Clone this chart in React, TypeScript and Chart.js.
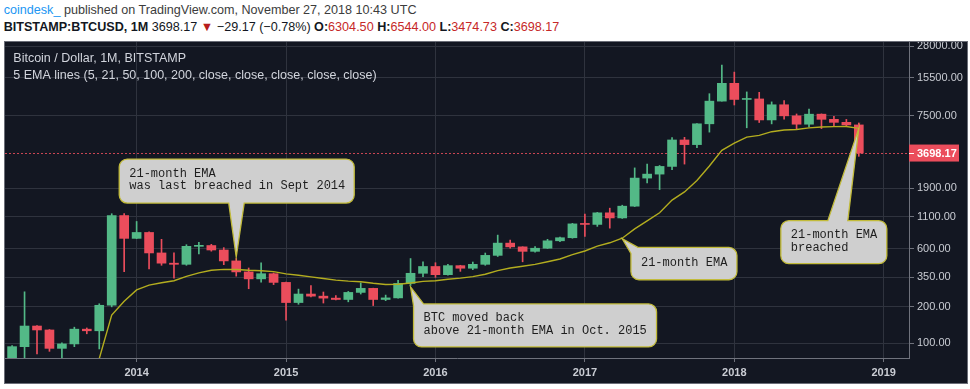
import React, { useEffect, useRef } from "react";
import { Chart, registerables } from "chart.js";

Chart.register(...registerables);

// ---------- data ----------
const MONTHS = [
  "2013-03", "2013-04", "2013-05", "2013-06", "2013-07", "2013-08", "2013-09", "2013-10", "2013-11", "2013-12",
  "2014-01", "2014-02", "2014-03", "2014-04", "2014-05", "2014-06", "2014-07", "2014-08", "2014-09", "2014-10", "2014-11", "2014-12",
  "2015-01", "2015-02", "2015-03", "2015-04", "2015-05", "2015-06", "2015-07", "2015-08", "2015-09", "2015-10", "2015-11", "2015-12",
  "2016-01", "2016-02", "2016-03", "2016-04", "2016-05", "2016-06", "2016-07", "2016-08", "2016-09", "2016-10", "2016-11", "2016-12",
  "2017-01", "2017-02", "2017-03", "2017-04", "2017-05", "2017-06", "2017-07", "2017-08", "2017-09", "2017-10", "2017-11", "2017-12",
  "2018-01", "2018-02", "2018-03", "2018-04", "2018-05", "2018-06", "2018-07", "2018-08", "2018-09", "2018-10", "2018-11",
];

const OPEN = [
  34, 94, 139, 129, 91, 99, 131, 127, 206, 1130,
  733, 820, 556, 458, 448, 630, 640, 588, 478, 388, 340, 375,
  318, 217, 255, 245, 236, 230, 263, 284, 230, 237, 312, 378,
  430, 368, 437, 416, 448, 531, 670, 624, 573, 608, 700, 742,
  965, 955, 1190, 1080, 1350, 2300, 2480, 2870, 4740, 4340, 6440, 9900,
  13880, 10220, 10320, 6930, 9240, 7490, 6390, 7730, 7010, 6620, 6304.5,
];

const HIGH = [
  96, 266, 140, 130, 101, 136, 134, 212, 1170, 1175,
  1010, 830, 720, 556, 650, 680, 655, 615, 500, 418, 460, 380,
  320, 280, 300, 265, 248, 268, 315, 285, 250, 330, 500, 470,
  462, 448, 440, 468, 555, 780, 710, 625, 627, 720, 750, 975,
  1160, 1200, 1300, 1375, 2790, 3000, 2920, 4950, 4980, 6470, 11400, 19650,
  17170, 11790, 11700, 9760, 9990, 7760, 8500, 7770, 7410, 7000, 6544,
];

const LOW = [
  33, 50, 82, 86, 66, 94, 120, 90, 200, 390,
  730, 410, 440, 345, 440, 545, 575, 445, 358, 282, 320, 305,
  155, 210, 242, 215, 228, 220, 255, 205, 225, 236, 300, 355,
  350, 365, 392, 405, 440, 520, 610, 470, 565, 605, 690, 735,
  760, 920, 890, 1070, 1340, 2100, 1850, 2700, 3000, 4100, 5500, 9900,
  9200, 5970, 6600, 6430, 7030, 5780, 6080, 5880, 6110, 6200, 3474.73,
];

const CLOSE = [
  94, 139, 129, 91, 99, 131, 127, 206, 1130, 733,
  820, 556, 458, 448, 630, 640, 588, 478, 388, 340, 375, 318,
  217, 255, 245, 236, 230, 263, 284, 230, 237, 312, 378, 430,
  368, 437, 416, 448, 531, 670, 624, 573, 608, 700, 742, 965,
  955, 1190, 1080, 1350, 2300, 2480, 2870, 4740, 4340, 6440, 9900, 13880,
  10220, 10320, 6930, 9240, 7490, 6390, 7730, 7010, 6620, 6304.5, 3698.17,
];

const EMA21 = [
  null, null, null, null, null, null, null, 75, 171, 222,
  276, 302, 316, 328, 356, 381, 400, 407, 406, 400, 397, 390,
  374, 364, 353, 342, 332, 326, 322, 313, 306, 307, 314, 324,
  328, 338, 345, 355, 371, 398, 418, 432, 448, 471, 496, 539,
  577, 633, 674, 735, 877, 1023, 1191, 1514, 1770, 2195, 2895, 3892,
  4468, 5000, 5175, 5545, 5722, 5783, 5960, 6055, 6106, 6124, 5903,
];

const YEAR_TICKS = [2014, 2015, 2016, 2017, 2018, 2019];
const PRICE_TICKS = [100, 200, 350, 600, 1100, 1900, 7500, 15500, 28000];
const LAST_PRICE = 3698.17;
const LAST_CHANGE = "\u221229.17 (\u22120.78%)";

const PUBLISHER = "coindesk_";
const PUBLISHED = " published on TradingView.com, November 27, 2018 10:43 UTC";
const SYMBOL = "BITSTAMP:BTCUSD, 1M";
const TITLE = "Bitcoin / Dollar, 1M, BITSTAMP";
const STUDY = "5 EMA lines (5, 21, 50, 100, 200, close, close, close, close, close)";

const NOTE_1 = ["21-month EMA", "was last breached in Sept 2014"];
const NOTE_2 = ["BTC moved back", "above 21-month EMA in Oct. 2015"];
const NOTE_3 = ["21-month EMA"];
const NOTE_4 = ["21-month EMA", "breached"];

// ---------- styles ----------
const BG = "#131722";
const GRID = "#2f333e";
const AXIS = "#6f727c";
const LABEL = "#c9ccd3";
const GREEN = "#53b987";
const RED = "#eb4d5c";
const EMA_COLOR = "#b3ad1f";
const SANS = '"Liberation Sans", Arial, sans-serif';
const MONO = '"Liberation Mono", "Courier New", monospace';

const X_MIN = -10.57;
const X_MAX = 62.03;
const Y_MIN = 75.8;
const Y_MAX = 30390;

// callout anchors (tip is bound to data), boxes are pixel offsets from the tip
const CALLOUTS = [
  { lines: NOTE_1, month: "2014-09", source: "high", dy: -1.5, box: [-117, -98, 118, -54], ptr: { side: "bottom", from: -7.5, to: 8 } },
  { lines: NOTE_2, month: "2015-11", source: "low", dy: 1.5, box: [3, 17, 246, 60], ptr: { side: "tl", a: 10, b: 2 } },
  { lines: NOTE_3, month: "2017-04", source: "ema", dy: 0.5, box: [8.7, 8.7, 114.7, 41], ptr: { side: "tl", a: 7, b: 6 } },
  { lines: NOTE_4, month: "2018-11", source: "ema", dy: 0, box: [-78, 92.3, 28, 135.3], ptr: { side: "top", from: -31, to: -11 } },
];

function monthIndex(label: string) {
  const [y, m] = label.split("-").map(Number);
  return (y - 2014) * 12 + (m - 1);
}

function calloutPath(ctx: CanvasRenderingContext2D, L: number, T: number, R: number, B: number, r: number, tip: { x: number; y: number }, ptr: any) {
  ctx.beginPath();
  if (ptr.side === "tl") {
    ctx.moveTo(L + ptr.a, T);
    ctx.lineTo(R - r, T);
    ctx.arcTo(R, T, R, T + r, r);
    ctx.lineTo(R, B - r);
    ctx.arcTo(R, B, R - r, B, r);
    ctx.lineTo(L + r, B);
    ctx.arcTo(L, B, L, B - r, r);
    ctx.lineTo(L, T + ptr.b);
    ctx.lineTo(tip.x, tip.y);
    ctx.closePath();
  } else if (ptr.side === "top") {
    ctx.moveTo(L + r, T);
    ctx.lineTo(tip.x + ptr.from, T);
    ctx.lineTo(tip.x, tip.y);
    ctx.lineTo(tip.x + ptr.to, T);
    ctx.lineTo(R - r, T);
    ctx.arcTo(R, T, R, T + r, r);
    ctx.lineTo(R, B - r);
    ctx.arcTo(R, B, R - r, B, r);
    ctx.lineTo(L + r, B);
    ctx.arcTo(L, B, L, B - r, r);
    ctx.lineTo(L, T + r);
    ctx.arcTo(L, T, L + r, T, r);
    ctx.closePath();
  } else {
    ctx.moveTo(L + r, T);
    ctx.lineTo(R - r, T);
    ctx.arcTo(R, T, R, T + r, r);
    ctx.lineTo(R, B - r);
    ctx.arcTo(R, B, R - r, B, r);
    ctx.lineTo(tip.x + ptr.to, B);
    ctx.lineTo(tip.x, tip.y);
    ctx.lineTo(tip.x + ptr.from, B);
    ctx.lineTo(L + r, B);
    ctx.arcTo(L, B, L, B - r, r);
    ctx.lineTo(L, T + r);
    ctx.arcTo(L, T, L + r, T, r);
    ctx.closePath();
  }
}

const overlayPlugin = {
  id: "overlay",
  beforeDatasetsDraw(chart: any) {
    const { ctx, chartArea: a, scales } = chart;
    const py = Math.round(scales.y.getPixelForValue(LAST_PRICE)) + 0.5;
    ctx.save();
    ctx.strokeStyle = "rgba(235,77,92,0.85)";
    ctx.lineWidth = 1;
    ctx.setLineDash([2, 2]);
    ctx.beginPath();
    ctx.moveTo(a.left, py);
    ctx.lineTo(a.right, py);
    ctx.stroke();
    ctx.setLineDash([]);
    ctx.fillStyle = "#d1d4dc";
    ctx.font = `12.5px ${SANS}`;
    ctx.textBaseline = "middle";
    ctx.textAlign = "left";
    ctx.fillText(TITLE, a.left + 8.3, a.top + 16.3);
    ctx.fillText(STUDY, a.left + 8.3, a.top + 33.7);
    ctx.restore();
  },
  afterDraw(chart: any) {
    const { ctx, chartArea: a, scales } = chart;
    const xs = scales.x;
    const ys = scales.y;
    ctx.save();
    // last price label on axis
    const py = ys.getPixelForValue(LAST_PRICE);
    ctx.fillStyle = RED;
    ctx.fillRect(a.right, py - 8.5, 50, 17);
    ctx.strokeStyle = "#ffffff";
    ctx.lineWidth = 1;
    ctx.beginPath();
    ctx.moveTo(a.right, Math.round(py) + 0.5);
    ctx.lineTo(a.right + 5, Math.round(py) + 0.5);
    ctx.stroke();
    ctx.fillStyle = "#ffffff";
    ctx.font = `bold 11px ${SANS}`;
    ctx.textBaseline = "middle";
    ctx.textAlign = "left";
    ctx.fillText(LAST_PRICE.toFixed(2), a.right + 8, py + 0.5);

    // callouts
    for (const c of CALLOUTS) {
      const i = MONTHS.indexOf(c.month);
      const v = c.source === "high" ? HIGH[i] : c.source === "low" ? LOW[i] : (EMA21[i] as number);
      const tip = { x: xs.getPixelForValue(monthIndex(c.month)), y: ys.getPixelForValue(v) + c.dy };
      const L = tip.x + c.box[0];
      const T = tip.y + c.box[1];
      const R = tip.x + c.box[2];
      const B = tip.y + c.box[3];
      calloutPath(ctx, L, T, R, B, 8, tip, c.ptr);
      ctx.fillStyle = "#cfcfcf";
      ctx.fill();
      ctx.strokeStyle = "#c2bb3a";
      ctx.lineWidth = 1.3;
      ctx.stroke();
      ctx.fillStyle = "#1e1e1e";
      ctx.font = `12px ${MONO}`;
      ctx.textBaseline = "middle";
      ctx.textAlign = "left";
      const mid = (T + B) / 2 - 1;
      const n = c.lines.length;
      c.lines.forEach((t, k) => {
        ctx.fillText(t, L + 10, mid + (k - (n - 1) / 2) * 12.4);
      });
    }
    ctx.restore();
  },
};

export default function App() {
  const ref = useRef<HTMLCanvasElement>(null);

  useEffect(() => {
    const canvas = ref.current;
    if (!canvas) return;
    const xs = MONTHS.map(monthIndex);
    const colors = CLOSE.map((c, i) => (c >= OPEN[i] ? GREEN : RED));

    const chart = new Chart(canvas, {
      type: "bar",
      data: {
        datasets: [
          {
            type: "line",
            data: xs.map((x, i) => ({ x, y: EMA21[i] })),
            borderColor: EMA_COLOR,
            borderWidth: 1.4,
            pointRadius: 0,
            tension: 0,
            spanGaps: false,
          } as any,
          {
            type: "bar",
            data: xs.map((x, i) => ({ x, y: [OPEN[i], CLOSE[i]] })),
            backgroundColor: colors,
            barThickness: 9,
            grouped: false,
            minBarLength: 1,
            borderWidth: 0,
          } as any,
          {
            type: "bar",
            data: xs.map((x, i) => ({ x, y: [LOW[i], HIGH[i]] })),
            backgroundColor: colors,
            barThickness: 1,
            grouped: false,
            borderWidth: 0,
          } as any,
        ],
      },
      options: {
        animation: false,
        responsive: false,
        devicePixelRatio: 1,
        events: [],
        layout: { padding: 0 },
        plugins: { legend: { display: false }, tooltip: { enabled: false }, title: { display: false } },
        scales: {
          x: {
            type: "linear",
            position: "bottom",
            min: X_MIN,
            max: X_MAX,
            offset: false,
            afterBuildTicks: (s: any) => {
              s.ticks = YEAR_TICKS.map((y) => ({ value: (y - 2014) * 12 }));
            },
            afterFit: (s: any) => {
              s.height = 25;
              s.paddingLeft = 0;
              s.paddingRight = 0;
            },
            ticks: {
              autoSkip: false,
              maxRotation: 0,
              padding: 4,
              color: LABEL,
              font: { family: SANS, size: 11, weight: "bold" },
              callback: (v: any) => String(2014 + Number(v) / 12),
            },
            grid: { color: GRID, offset: false, drawTicks: true, tickLength: 4, tickColor: AXIS, lineWidth: 1 },
            border: { display: true, color: AXIS, width: 1 },
          },
          y: {
            type: "logarithmic",
            position: "right",
            min: Y_MIN,
            max: Y_MAX,
            beginAtZero: false,
            afterBuildTicks: (s: any) => {
              s.ticks = PRICE_TICKS.map((v) => ({ value: v }));
            },
            afterFit: (s: any) => {
              s.width = 58;
              s.paddingTop = 0;
              s.paddingBottom = 0;
            },
            ticks: {
              autoSkip: false,
              padding: 3,
              color: LABEL,
              font: { family: SANS, size: 11 },
              callback: (v: any) => Number(v).toFixed(2),
            },
            grid: { color: GRID, drawTicks: true, tickLength: 5, tickColor: AXIS, lineWidth: 1 },
            border: { display: true, color: AXIS, width: 1 },
          },
        },
      } as any,
      plugins: [overlayPlugin],
    });
    return () => chart.destroy();
  }, []);

  const red = { color: "#c62828" };
  return (
    <div style={{ position: "absolute", left: 0, top: 0, width: 970, height: 389, background: "#ffffff", overflow: "hidden", fontFamily: SANS }}>
      <div style={{ position: "absolute", left: 3.7, top: 1.5, fontSize: 12.6, lineHeight: "16px", color: "#3c3c3c", whiteSpace: "nowrap" }}>
        <span style={{ color: "#2196f3" }}>{PUBLISHER}</span>
        {PUBLISHED}
      </div>
      <div style={{ position: "absolute", left: 3.7, top: 19.3, fontSize: 12.6, lineHeight: "16px", color: "#131722", whiteSpace: "nowrap" }}>
        <b>{SYMBOL}</b> {CLOSE[CLOSE.length - 1].toFixed(2)} <span style={{ color: "#b71c1c" }}>▼</span> {LAST_CHANGE} <b>O:</b>
        <span style={red}>{OPEN[OPEN.length - 1].toFixed(2)}</span> <b>H:</b>
        <span style={red}>{HIGH[HIGH.length - 1].toFixed(2)}</span> <b>L:</b>
        <span style={red}>{LOW[LOW.length - 1].toFixed(2)}</span> <b>C:</b>
        <span style={red}>{CLOSE[CLOSE.length - 1].toFixed(2)}</span>
      </div>
      <div style={{ position: "absolute", left: 4, top: 41, width: 964, height: 343, boxSizing: "border-box", border: "1px solid #6a6d77", background: BG }}>
        <canvas ref={ref} width={962} height={341} style={{ display: "block", width: 962, height: 341 }} />
      </div>
    </div>
  );
}
